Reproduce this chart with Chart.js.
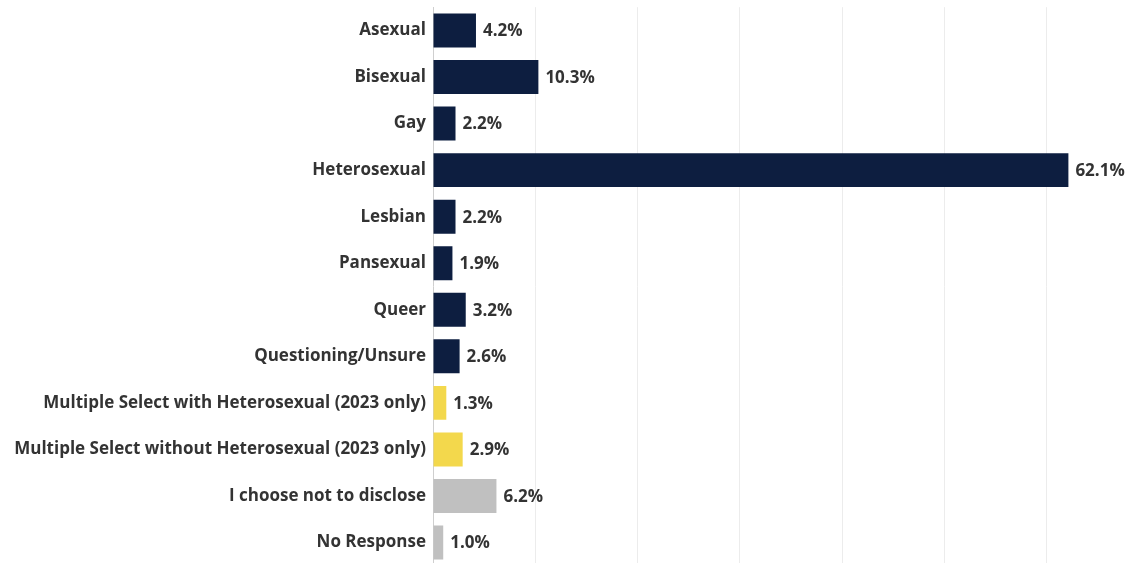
<!DOCTYPE html>
<html>
<head>
<meta charset="utf-8">
<script src="https://cdn.jsdelivr.net/npm/chart.js@4"></script>
<style>
  html, body { margin: 0; padding: 0; background: #fff; overflow: hidden; }
  #wrap { width: 1139px; height: 593px; margin-top: -10px; }
</style>
</head>
<body>
<div id="wrap"><canvas id="orientation"></canvas></div>
<script>
// categories and shares (%)
const categories = [
  'Asexual', 'Bisexual', 'Gay', 'Heterosexual', 'Lesbian', 'Pansexual', 'Queer',
  'Questioning/Unsure', 'Multiple Select with Heterosexual (2023 only)',
  'Multiple Select without Heterosexual (2023 only)', 'I choose not to disclose', 'No Response'
]
const shares = [4.2, 10.3, 2.2, 62.1, 2.2, 1.9, 3.2, 2.6, 1.3, 2.9, 6.2, 1.0]
// bar group per category: 0 = single identity, 1 = multiple select, 2 = no answer
const groups = [0, 0, 0, 0, 0, 0, 0, 0, 1, 1, 2, 2]
const groupColors = ['#0d1e40', '#f3d84c', '#c0c0c0']
const xTicks = [0, 10, 20, 30, 40, 50, 60]

const FONT = '"Open Sans", "Noto Sans", sans-serif'

// percent text at the end of each bar
const valueLabels = {
  id: 'valueLabels',
  afterDatasetsDraw(chart){
    const ctx = chart.ctx
    const meta = chart.getDatasetMeta(0)
    ctx.save()
    ctx.font = `bold 17px ${FONT}`
    ctx.fillStyle = '#333'
    ctx.textBaseline = 'middle'
    ctx.textAlign = 'left'
    meta.data.forEach((bar, i) => {
      ctx.fillText(shares[i].toFixed(1) + '%', bar.x + 7, bar.y + 1)
    })
    ctx.restore()
  }
}

new Chart(document.getElementById('orientation'), {
  type: 'bar',
  data: {
    labels: categories,
    datasets: [{
      data: shares,
      backgroundColor: groups.map(g => groupColors[g]),
      barPercentage: 0.73,
      categoryPercentage: 1
    }]
  },
  options: {
    indexAxis: 'y',
    responsive: true,
    maintainAspectRatio: false,
    animation: false,
    layout: { padding: 0 },
    plugins: {
      legend: { display: false },
      tooltip: { enabled: false }
    },
    scales: {
      x: {
        min: 0,
        max: 69,
        afterBuildTicks(axis){
          axis.ticks = xTicks.map(v => ({ value: v }))
        },
        afterFit(axis){ axis.height = 0 },
        ticks: { display: false },
        grid: {
          color: c => c.tick && c.tick.value === 0 ? 'rgba(0,0,0,0)' : '#ececec',
          drawTicks: false
        },
        border: { display: false }
      },
      y: {
        afterFit(axis){ axis.width = 433 },
        ticks: {
          color: '#333',
          padding: 7,
          font: { family: FONT, size: 17, weight: 'bold' }
        },
        grid: { display: false, drawTicks: false },
        border: { display: true, color: '#cfcfcf', dash: [1, 2] }
      }
    }
  },
  plugins: [valueLabels]
})
</script>
</body>
</html>
